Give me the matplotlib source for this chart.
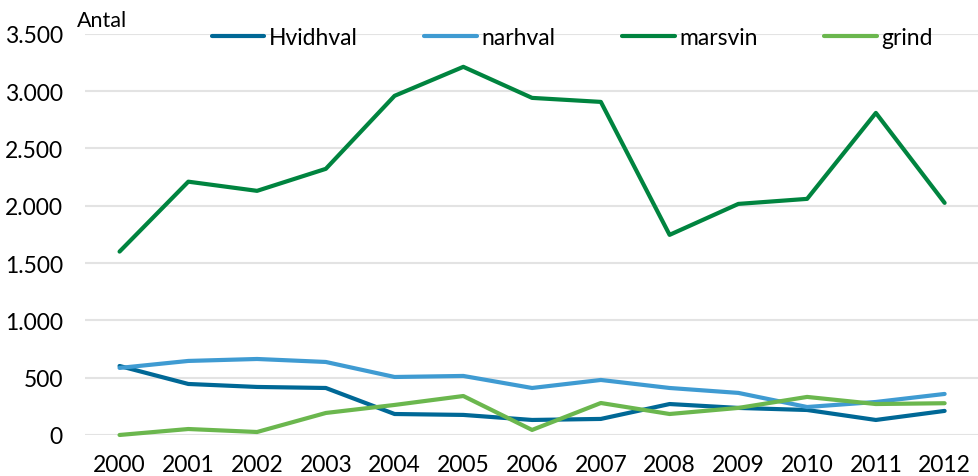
import matplotlib
matplotlib.use("Agg")
import matplotlib.pyplot as plt
from matplotlib.ticker import FuncFormatter

years = list(range(2000, 2013))
hvidhval = [602, 445, 419, 410, 183, 175, 131, 140, 270, 236, 218, 131, 210]
narhval = [585, 646, 663, 637, 506, 515, 410, 480, 410, 367, 244, 288, 358]
marsvin = [1600, 2210, 2130, 2322, 2959, 3212, 2941, 2906, 1746, 2016, 2060, 2810, 2025]
grind = [0, 52, 26, 192, 262, 340, 44, 279, 183, 236, 332, 270, 277]

plt.rcParams['font.family'] = ['Lato', 'DejaVu Sans']

fig = plt.figure(figsize=(9.79, 4.77), dpi=100)
ax = fig.add_axes([0.087, 0.086, 0.913, 0.841])

series = [("Hvidhval", hvidhval, "#006896"),
          ("narhval", narhval, "#3f9bd2"),
          ("marsvin", marsvin, "#00843f"),
          ("grind", grind, "#6bb74e")]
x = list(range(len(years)))
for name, vals, col in series:
    ax.plot(x, vals, color=col, lw=3, label=name, clip_on=False, solid_capstyle="round")

ax.set_xlim(-0.5, len(years) - 0.5)
ax.set_ylim(0, 3500)
ax.set_yticks(range(0, 3501, 500))
ax.yaxis.set_major_formatter(FuncFormatter(lambda v, p: f"{int(v):,}".replace(",", ".")))
ax.set_xticks(x)
ax.set_xticklabels([str(y) for y in years])
ax.grid(axis="y", color="#e3e3e3", lw=1.5)
ax.set_axisbelow(True)
for s in ax.spines.values():
    s.set_visible(False)
ax.tick_params(length=0, labelsize=16.5, colors="black")
ax.tick_params(axis="y", pad=16)
ax.tick_params(axis="x", pad=14)

fig.text(0.079, 0.955, "Antal", fontsize=15.5, va="center", ha="left")

ax.legend(loc="center", bbox_to_anchor=(0.545, 0.99), ncol=4, frameon=False,
          fontsize=16.5, handlelength=2.3, handletextpad=0.2, columnspacing=2.9)

fig.savefig("out.png", dpi=100)
